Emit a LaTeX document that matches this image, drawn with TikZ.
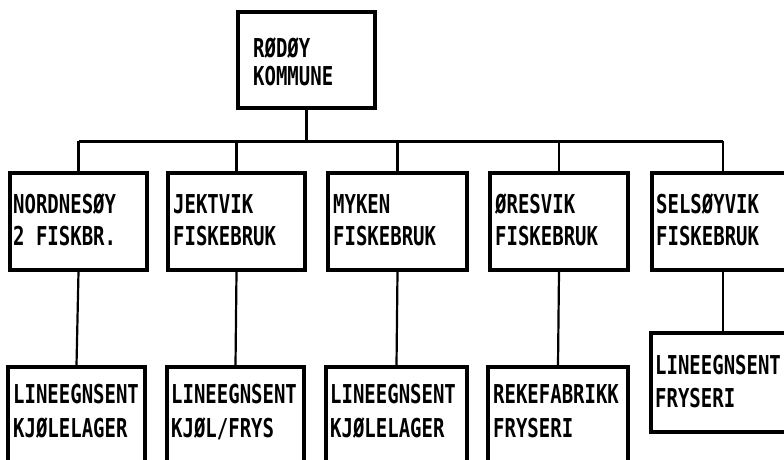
\documentclass[tikz,border=0pt]{standalone}
\usepackage{fontspec}
\newfontfamily\plotfont[FakeStretch=0.73]{DejaVu Sans Mono}
\begin{document}
\begin{tikzpicture}[x=1pt,y=-1pt,
  box/.style={draw, line width=3.2pt, inner sep=0, fill=white},
  lbl/.style={font=\plotfont\bfseries\fontsize{26}{30}\selectfont, anchor=base west, inner sep=0},
  wire/.style={line width=2.2pt}]
\clip (0,0) rectangle (784,459);
\fill[white] (0,0) rectangle (784,459);
% boxes
\node[box, minimum width=137pt, minimum height=96pt] (top) at (306.5,60) {};
\node[box, minimum width=137pt, minimum height=97pt] (r1) at (78.5,221.5) {};
\node[box, minimum width=137pt, minimum height=97pt] (r2) at (236.5,221.5) {};
\node[box, minimum width=139pt, minimum height=97pt] (r3) at (397.5,221.5) {};
\node[box, minimum width=138pt, minimum height=97pt] (r4) at (559,221.5) {};
\node[box, minimum width=142pt, minimum height=97pt] (r5) at (723,221.5) {};
\node[box, minimum width=137pt, minimum height=133pt] (s1) at (76.5,433.5) {};
\node[box, minimum width=137pt, minimum height=133pt] (s2) at (235.5,433.5) {};
\node[box, minimum width=141pt, minimum height=133pt] (s3) at (396.5,433.5) {};
\node[box, minimum width=140pt, minimum height=133pt] (s4) at (558,433.5) {};
\node[box, minimum width=144pt, minimum height=99pt] (s5) at (723,382.5) {};
% connectors
\coordinate (bus) at (0,141);
\draw[wire, line width=3pt] (r1.north |- bus) -- (r5.north |- bus);
\draw[wire] (top.south) -- (top.south |- bus);
\foreach \r in {r1,r2,r3,r4,r5} \draw[wire] (\r.north |- bus) -- (\r.north);
\draw[wire] (r1.south) -- (s1.north);
\draw[wire] (r2.south) -- (s2.north);
\draw[wire] (r3.south) -- (s3.north);
\draw[wire] (r4.south) -- (s4.north);
\draw[wire] (r5.south) -- (s5.north);
% texts
\node[lbl] (ta) at (253,57) {RØDØY};
\node[lbl] (tb) at (253,85) {KOMMUNE};
\node[lbl] (r1a) at (13,213) {NORDNESØY};
\node[lbl] (r1b) at (13,245) {2 FISKBR.};
\node[lbl] (r2a) at (173,213) {JEKTVIK};
\node[lbl] (r2b) at (173,245) {FISKEBRUK};
\node[lbl] (r3a) at (333,213) {MYKEN};
\node[lbl] (r3b) at (333,245) {FISKEBRUK};
\node[lbl] (r4a) at (495,213) {ØRESVIK};
\node[lbl] (r4b) at (495,245) {FISKEBRUK};
\node[lbl] (r5a) at (656,213) {SELSØYVIK};
\node[lbl] (r5b) at (656,245) {FISKEBRUK};
\node[lbl] (s1a) at (13,403) {LINEEGNSENT};
\node[lbl] (s1b) at (13,437) {KJØLELAGER};
\node[lbl] (s2a) at (171,403) {LINEEGNSENT};
\node[lbl] (s2b) at (171,437) {KJØL/FRYS};
\node[lbl] (s3a) at (330,403) {LINEEGNSENT};
\node[lbl] (s3b) at (330,437) {KJØLELAGER};
\node[lbl] (s4a) at (493,403) {REKEFABRIKK};
\node[lbl] (s4b) at (493,437) {FRYSERI};
\node[lbl] (s5a) at (655,374) {LINEEGNSENT};
\node[lbl] (s5b) at (655,407) {FRYSERI};
\end{tikzpicture}
\end{document}
